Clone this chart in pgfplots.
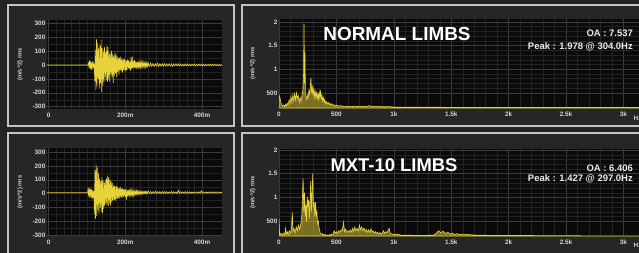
\documentclass[border=0pt]{standalone}
\usepackage{pgfplots}
\pgfplotsset{compat=1.18}
\usepackage{fontspec}
\setmainfont{Liberation Sans}
\definecolor{bg}{HTML}{242424}
\definecolor{panelbg}{HTML}{262626}
\definecolor{frame}{HTML}{C4C4C4}
\definecolor{plotbg}{HTML}{0A0A0A}
\definecolor{gridmaj}{HTML}{3C3C3C}
\definecolor{gridmin}{HTML}{232323}
\definecolor{sigyellow}{HTML}{E8D23A}
\definecolor{tick}{HTML}{D6D6D6}
\pgfplotsset{
  common/.style={scale only axis, anchor=south west,
    axis background/.style={fill=plotbg},
    axis line style={draw=none},
    major tick length=0pt, minor tick length=0pt,
    grid=both,
    major grid style={draw=gridmaj, line width=0.45bp},
    minor grid style={draw=gridmin, line width=0.35bp},
    ticklabel style={font=\fontsize{6.4}{6.4}\selectfont\bfseries, text=tick},
    xticklabel style={inner sep=1.5bp, yshift=-2.5bp},
    yticklabel style={inner sep=1.5bp},
    /pgf/number format/assume math mode=true,
    ylabel={(m/s\textasciicircum 2) rms},
    ylabel style={font=\fontsize{5.8}{6}\selectfont\bfseries, text=tick, anchor=center},
  },
  timeax/.style={common, width=175bp, height=89bp, xmin=-4, xmax=452,
    xtick={0,200,400}, xticklabels={0,200m,400m}, minor x tick num=9,
    ytick={-300,-200,...,300}, minor y tick num=1,
    ylabel style={at={(axis description cs:-0.154,0.5)}}},
  specax/.style={common, width=367.4bp, height=89bp, xmin=0, xmax=3200,
    ymin=0.18, ymax=2.06,
    xtick={0,500,1000,1500,2000,2500,3000}, xticklabels={0,500,1k,1.5k,2k,2.5k,3k},
    minor x tick num=4,
    ytick={0.5,1,1.5,2}, yticklabels={500,1,1.5,2}, minor y tick num=4,
    ylabel style={at={(axis description cs:-0.071,0.5)}}},
  sig/.style={draw=sigyellow, line width=0.6bp},
  spec/.style={draw=sigyellow, line width=0.6bp, fill=sigyellow, fill opacity=0.5},
}
\begin{document}
\begin{tikzpicture}[x=1bp,y=1bp]
\path[use as bounding box] (0,0) rectangle (639,252);
\clip (0,0) rectangle (639,252);
\fill[bg] (-5,-5) rectangle (700,260);
\fill[panelbg] (8,126) rectangle (234,247);
\fill[panelbg] (242,126) rectangle (660,247);
\fill[panelbg] (8,-10) rectangle (234,119);
\fill[panelbg] (242,-10) rectangle (660,119);
\draw[frame, line width=1.4bp] (8,126) rectangle (234,247);
\draw[frame, line width=1.4bp] (242,126) rectangle (660,247);
\draw[frame, line width=1.4bp] (8,-10) rectangle (234,119);
\draw[frame, line width=1.4bp] (242,-10) rectangle (660,119);
\coordinate (TL) at (47,143);
\coordinate (BL) at (47,16);
\coordinate (TR) at (279,144);
\coordinate (BR) at (279,16);

% ---------- top-left: NORMAL time signal
\begin{axis}[timeax, at={(TL)}, ymin=-317, ymax=324]
\addplot[sig] coordinates {
(-4,0)(102,0)
(104,15)(105.5,-20)(107,35)(108.5,-30)(110,25)(111.5,-35)(113,20)(114.5,-15)(116,30)(117.5,-25)(119,10)
(120.5,-120)(122,110)(123.5,-180)(125,185)(126.5,-150)(128,160)(129.5,-100)(131,120)(132.5,-170)(134,140)(135.5,-130)(137,180)
(138.5,-195)(140,120)(141.5,-150)(143,100)(144.5,-120)(146,130)(147.5,-90)(149,95)
(150.5,-110)(152,140)(153.5,-120)(155,130)(156.5,-100)(158,90)(159.5,-120)(161,80)(162.5,-70)(164,100)
(165.5,-90)(167,80)(168.5,-130)(170,70)(171.5,-80)(173,90)(174.5,-60)(176,75)(177.5,-90)(179,60)(180.5,-50)(182,55)(183.5,-70)(185,50)(186.5,-45)(188,60)(189.5,-40)
(191,45)(192.5,-55)(194,40)(195.5,-35)(197,50)(198.5,-40)(200,35)(201.5,-45)(203,30)(204.5,-35)(206,40)(207.5,-25)(209,35)(210.5,-30)(212,25)(213.5,-40)(215,55)(216.5,-30)(218,60)(219.5,-25)
(221,30)(222.5,-25)(224,35)(225.5,-20)(227,25)(228.5,-30)(230,20)(231.5,-20)(233,25)(234.5,-15)(236,20)(237.5,-25)(239,18)(240.5,-15)(242,20)(243.5,-18)(245,15)(246.5,-12)(248,18)(249.5,-15)(251,15)(252.5,-12)(254,20)(255.5,-10)(257,14)(258.5,-12)
(260,12)(263,-10)(266,14)(269,-9)(272,11)(275,-12)(278,10)(281,-8)(284,13)(287,-10)(290,9)(293,-8)(296,11)(299,-9)(302,10)(305,-7)(308,9)(311,-8)(314,10)(317,-7)(320,8)(323,-9)(326,7)(329,-6)(332,9)(335,-7)(338,8)(341,-6)(344,7)(347,-8)(350,6)(353,-7)(356,8)(359,-6)(362,7)(365,-5)(368,6)(371,-7)(374,6)(377,-5)(380,7)(383,-6)(386,5)(389,-6)(392,7)(395,-5)(398,6)(401,-5)(404,5)(407,-6)(410,6)(413,-5)(416,5)(419,-4)(422,6)(425,-5)(428,5)(431,-4)(434,5)(437,-5)(440,4)(443,-4)(446,5)(449,-4)(452,3)
};
\end{axis}

% ---------- bottom-left: MXT time signal
\begin{axis}[timeax, at={(BL)}, height=88bp, ymin=-305, ymax=329]
\addplot[sig] coordinates {
(-4,8)(102,8)
(103,40)(104.5,-20)(106,45)(107.5,-30)(109,35)(110.5,-25)(112,30)(113.5,-40)(115,25)(116.5,-30)(118,20)
(119.5,-150)(121,170)(122.5,-180)(124,210)(125.5,-160)(127,190)(128.5,-120)(130,150)(131.5,-140)(133,110)(134.5,-100)
(136,90)(137.5,-130)(139,120)(140.5,-140)(142,100)(143.5,-110)(145,80)(146.5,-90)(148,95)(149.5,-70)
(151,110)(152.5,-80)(154,130)(155.5,-90)(157,120)(158.5,-70)(160,100)(161.5,-85)(163,90)(164.5,-60)(166,80)(167.5,-50)
(169,60)(170.5,-45)(172,55)(173.5,-55)(175,50)(176.5,-40)(178,60)(179.5,-35)(181,45)(182.5,-30)(184,40)(185.5,-35)(187,50)(188.5,-25)
(190,35)(191.5,-30)(193,40)(194.5,-25)(196,30)(197.5,-20)(199,35)(200.5,-25)(202,30)(203.5,-45)(205,28)(206.5,-18)(208,25)(209.5,-20)(211,30)(212.5,-15)(214,22)(215.5,-18)(217,25)(218.5,-12)
(220,22)(221.5,-10)(223,20)(224.5,-8)(226,18)(227.5,-5)(229,20)(230.5,-6)(232,18)(233.5,-4)(235,16)(236.5,-3)(238,18)(239.5,-2)(241,15)(242.5,0)(244,17)(245.5,-1)(247,14)(248.5,2)(250,15)(251.5,1)(253,14)(254.5,0)(256,16)(257.5,2)
(260,18)(263,2)(266,16)(269,0)(272,15)(275,3)(278,17)(281,1)(284,14)(287,2)(290,15)(293,0)(296,16)(299,3)(302,14)(305,2)(308,15)(311,1)(314,13)(317,3)(320,16)(323,2)(326,14)(329,3)(332,13)(335,1)(338,24)(341,2)(344,14)(347,4)(350,13)(353,3)(356,15)(359,2)(362,13)(365,4)(368,14)(371,3)(374,12)(377,4)(380,13)(383,3)(386,12)(389,4)(392,14)(395,3)(398,20)(401,4)(404,13)(407,5)(410,12)(413,4)(416,13)(419,5)(422,12)(425,4)(428,13)(431,5)(434,12)(437,5)(440,13)(443,4)(446,12)(449,6)(452,11)
};
\end{axis}

% ---------- top-right: NORMAL spectrum
\begin{axis}[specax, at={(TR)}]
\addplot[spec] coordinates {
(0,0.45)(8,0.40)(16,0.30)(24,0.25)(32,0.22)(40,0.24)(48,0.21)(56,0.26)(64,0.22)(72,0.28)(80,0.24)(88,0.35)(96,0.28)(104,0.42)(112,0.30)(120,0.45)(128,0.33)(136,0.48)(144,0.35)(152,0.50)(160,0.38)(168,0.44)(176,0.30)(184,0.40)(192,0.32)(200,0.45)(208,0.55)(214,0.9)(218,1.95)(222,0.7)(226,1.35)(230,0.5)(236,0.42)(242,0.35)(248,0.45)(254,0.40)(260,0.55)(266,0.48)(272,0.60)(278,0.82)(284,0.50)(290,0.62)(296,0.45)(302,0.58)(308,0.42)(314,0.55)(320,0.40)(326,0.50)(332,0.38)(338,0.48)(344,0.36)(350,0.52)(356,0.40)(362,0.55)(368,0.38)(374,0.45)(380,0.33)(386,0.40)(392,0.30)(398,0.36)(404,0.28)(412,0.32)(420,0.26)(428,0.30)(436,0.25)(444,0.28)(452,0.24)(460,0.27)(470,0.23)(480,0.25)(490,0.22)(500,0.24)(520,0.22)(540,0.23)(560,0.21)(580,0.22)(600,0.21)(620,0.22)(640,0.21)(660,0.22)(680,0.21)(700,0.22)(720,0.21)(740,0.22)(760,0.21)(780,0.23)(800,0.22)(820,0.21)(850,0.22)(880,0.21)(920,0.205)(960,0.21)(1000,0.20)(1100,0.20)(1200,0.195)(1400,0.195)(1600,0.19)(1800,0.19)(2000,0.19)(2200,0.19)(2400,0.19)(2600,0.19)(2800,0.19)(3000,0.19)(3200,0.19)
} \closedcycle;
\end{axis}

% ---------- bottom-right: MXT spectrum
\begin{axis}[specax, at={(BR)}, height=87bp, ymin=0.19, ymax=2.02]
\addplot[spec] coordinates {
(0,0.55)(4,0.30)(10,0.22)(20,0.24)(30,0.21)(40,0.25)(50,0.22)(57,0.35)(64,0.23)(72,0.28)(80,0.22)(90,0.30)(100,0.25)(108,0.32)(116,0.68)(122,0.28)(130,0.35)(140,0.25)(150,0.38)(160,0.30)(170,0.42)(180,0.33)(190,0.45)(198,0.6)(204,1.0)(210,1.4)(216,0.7)(222,1.1)(228,0.6)(234,0.85)(240,0.5)(246,1.02)(252,0.8)(258,0.95)(264,0.55)(270,0.9)(276,1.35)(282,0.7)(288,1.1)(294,1.5)(300,0.8)(306,0.9)(312,0.6)(318,0.9)(324,0.6)(330,0.7)(336,0.45)(342,0.5)(350,0.35)(360,0.25)(370,0.22)(380,0.24)(390,0.21)(400,0.22)(410,0.20)(420,0.21)(430,0.20)(440,0.22)(450,0.21)(460,0.23)(470,0.22)(480,0.30)(490,0.25)(500,0.28)(510,0.24)(520,0.30)(530,0.26)(540,0.32)(550,0.30)(563,0.48)(570,0.28)(580,0.34)(590,0.27)(600,0.30)(610,0.26)(620,0.32)(630,0.27)(640,0.35)(650,0.28)(660,0.38)(670,0.30)(680,0.35)(690,0.29)(700,0.42)(710,0.32)(720,0.38)(730,0.30)(740,0.36)(750,0.28)(760,0.33)(770,0.27)(780,0.32)(790,0.26)(800,0.34)(810,0.27)(820,0.30)(830,0.25)(840,0.28)(850,0.24)(860,0.27)(870,0.23)(880,0.26)(890,0.23)(900,0.25)(910,0.30)(920,0.24)(930,0.28)(940,0.26)(950,0.30)(960,0.35)(970,0.24)(990,0.23)(1010,0.22)(1030,0.23)(1060,0.21)(1100,0.21)(1150,0.205)(1200,0.20)(1250,0.20)(1300,0.205)(1350,0.21)(1370,0.25)(1390,0.30)(1410,0.26)(1430,0.29)(1450,0.24)(1470,0.27)(1490,0.23)(1510,0.25)(1530,0.22)(1550,0.24)(1580,0.22)(1600,0.23)(1650,0.22)(1700,0.21)(1800,0.205)(1900,0.20)(2000,0.20)(2200,0.20)(2400,0.195)(2600,0.195)(2800,0.19)(3000,0.19)(3200,0.19)
} \closedcycle;
\end{axis}

% ---------- texts
\node[text=white, font=\fontsize{19}{19}\selectfont\bfseries] at (397,218) {NORMAL LIMBS};
\node[text=white, font=\fontsize{18.5}{19}\selectfont\bfseries] at (394,87) {MXT-10 LIMBS};
\node[anchor=east, text=white!92!black, font=\fontsize{9.5}{10}\selectfont\bfseries, inner sep=0pt] at (633,219) {OA : 7.537};
\node[anchor=east, text=white!92!black, font=\fontsize{9.5}{10}\selectfont\bfseries, inner sep=0pt] at (633,205) {Peak : 1.978 @ 304.0Hz};
\node[anchor=east, text=white!92!black, font=\fontsize{9.5}{10}\selectfont\bfseries, inner sep=0pt] at (633,84) {OA : 6.406};
\node[anchor=east, text=white!92!black, font=\fontsize{9.5}{10}\selectfont\bfseries, inner sep=0pt] at (633,73) {Peak : 1.427 @ 297.0Hz};
\node[anchor=west, text=tick, font=\fontsize{6.4}{6.4}\selectfont\bfseries, inner sep=0pt] at (633.5,133.5) {Hz};
\node[anchor=west, text=tick, font=\fontsize{6.4}{6.4}\selectfont\bfseries, inner sep=0pt] at (633.5,6.5) {Hz};
\end{tikzpicture}
\end{document}
